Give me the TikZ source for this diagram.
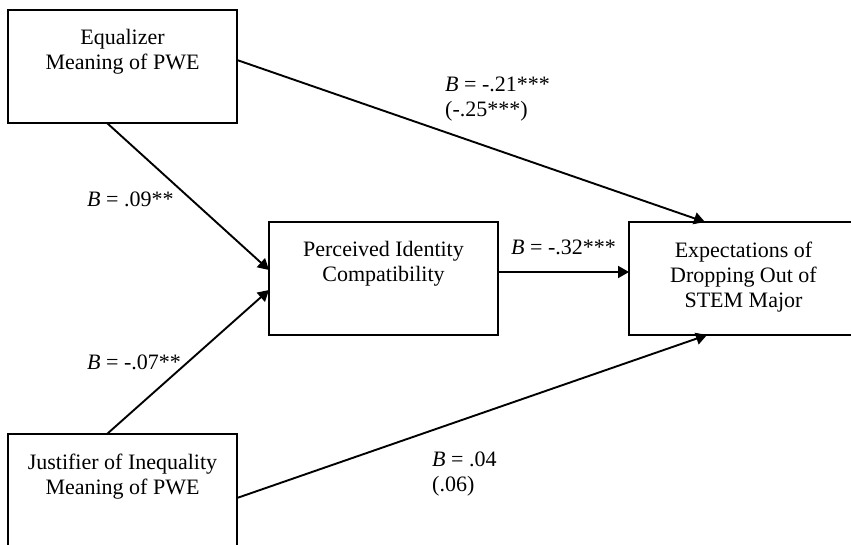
\documentclass[tikz,border=0pt]{standalone}
\usepackage{fontspec}
\setmainfont{Liberation Serif}
\usetikzlibrary{positioning,arrows.meta}

\begin{document}
\begin{tikzpicture}[
    x=1pt,y=-1pt,
    >={Triangle[length=11pt,width=12pt]},
    varbox/.style={rectangle,draw,line width=1.4pt,fill=white,inner sep=0pt,outer sep=0pt,minimum width=229pt,minimum height=113pt},
    boxtext/.style={align=center,inner sep=0pt,font=\fontsize{22}{25}\selectfont},
    coef/.style={align=left,inner sep=0pt,font=\fontsize{22}{25}\selectfont},
    path/.style={->,line width=1.9pt}
    ]

    \useasboundingbox (0,0) rectangle (851,545);

    \node (eq) [varbox,anchor=north west] at (8,10) {};
    \node (jus) [varbox,anchor=north west] at (8,434) {};
    \node (per) [varbox,anchor=north west] at (269,222) {};
    \node (exp) [varbox,anchor=north west] at (629,222) {};

    \node (eqtext) [boxtext,anchor=north,yshift=-19.5pt] at (eq.north) {Equalizer\\Meaning of PWE};
    \node (justext) [boxtext,anchor=north,yshift=-19.5pt] at (jus.north) {Justifier of Inequality\\Meaning of PWE};
    \node (pertext) [boxtext,anchor=north,yshift=-19.5pt] at (per.north) {Perceived Identity\\Compatibility};
    \node (exptext) [boxtext,anchor=north,yshift=-19.5pt] at (exp.north) {Expectations of\\Dropping Out of\\STEM Major};

    % paths
    \draw[path] ([yshift=6.5pt]eq.east) -- ([xshift=76pt]exp.north west);
    \draw[path] ([xshift=-15.5pt]eq.south) -- ([yshift=8.5pt]per.west);
    \draw[path] ([xshift=-15.5pt]jus.north) -- ([yshift=-11.5pt]per.west);
    \draw[path] ([yshift=6.5pt]per.east) -- ([yshift=6.5pt]exp.west);
    \draw[path] ([yshift=-7.5pt]jus.east) -- ([xshift=78pt]exp.south west);

    % coefficients
    \node (eqexp) [coef,anchor=north west] at (445,77) {\textit{B} = -.21***\\(-.25***)};
    \node (eqper) [coef,anchor=base west] at (87,207) {\textit{B} = .09**};
    \node (jusper) [coef,anchor=base west] at (87,369) {\textit{B} = -.07**};
    \node (perexp) [coef,anchor=base west] at (511,255) {\textit{B} = -.32***};
    \node (jusexp) [coef,anchor=north west] at (432,452) {\textit{B} = .04\\(.06)};

\end{tikzpicture}
\end{document}
